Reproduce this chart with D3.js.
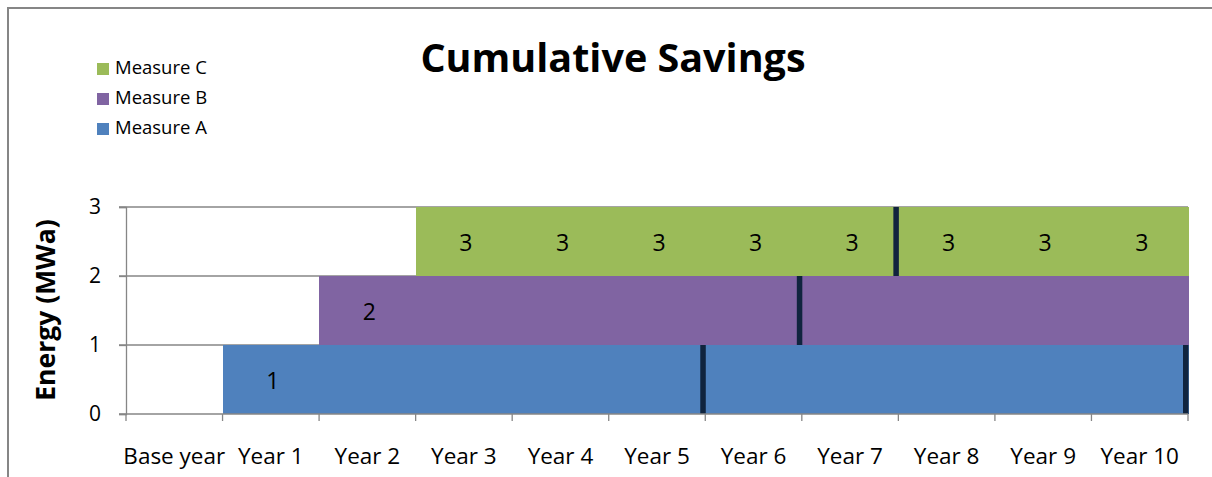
<!DOCTYPE html>
<html>
<head>
<meta charset="utf-8">
<script src="https://cdn.jsdelivr.net/npm/d3@7"></script>
<style>
  body { margin: 0; background: #fff; }
  svg { display: block; font-family: "Open Sans", sans-serif; }
</style>
</head>
<body>
<svg width="1212" height="477"></svg>
<script>
var categories = ["Base year", "Year 1", "Year 2", "Year 3", "Year 4", "Year 5",
    "Year 6", "Year 7", "Year 8", "Year 9", "Year 10"];
var measureA = [0, 1, 1, 1, 1, 1, 1, 1, 1, 1, 1];
var measureB = [0, 0, 1, 1, 1, 1, 1, 1, 1, 1, 1];
var measureC = [0, 0, 0, 1, 1, 1, 1, 1, 1, 1, 1];
var labelA = ["", "1", "", "", "", "", "", "", "", "", ""];
var labelB = ["", "", "2", "", "", "", "", "", "", "", ""];
var labelC = ["", "", "", "3", "3", "3", "3", "3", "3", "3", "3"];
// end-of-life markers (dark bar at right edge of a year)
var markerA = ["Year 5", "Year 10"];
var markerB = ["Year 6"];
var markerC = ["Year 7"];
var yTicks = [0, 1, 2, 3];

var svg = d3.select("svg");
var gridColor = "#868686";
var font = "'Open Sans', sans-serif";

// chart border
svg.append("rect")
    .attr("x", 8).attr("y", 8)
    .attr("width", 1400).attr("height", 600)
    .attr("fill", "none")
    .attr("stroke", gridColor)
    .attr("stroke-width", 2);

var x = d3.scaleBand().domain(categories).range([126, 1188]).padding(0);
var y = d3.scaleLinear().domain([0, 3]).range([414, 207]);

var series = [
    { name: "Measure A", values: measureA, labels: labelA, markers: markerA, color: "#4F81BD" },
    { name: "Measure B", values: measureB, labels: labelB, markers: markerB, color: "#8064A2" },
    { name: "Measure C", values: measureC, labels: labelC, markers: markerC, color: "#9BBB59" }
];

var table = categories.map(function (c, i) {
    var row = { cat: c };
    series.forEach(function (s) { row[s.name] = s.values[i]; });
    return row;
});
var stacked = d3.stack().keys(series.map(function (s) { return s.name; }))(table);

// gridlines
svg.append("g")
    .selectAll("line")
    .data(yTicks.slice(1))
    .enter()
    .append("line")
    .attr("x1", 119).attr("x2", 1188)
    .attr("y1", function (d) { return y(d); })
    .attr("y2", function (d) { return y(d); })
    .attr("stroke", gridColor)
    .attr("stroke-width", 1.3);

// bars
stacked.forEach(function (layer, k) {
    var s = series[k];
    svg.append("g")
        .attr("shape-rendering", "crispEdges")
        .selectAll("rect")
        .data(layer)
        .enter()
        .append("rect")
        .attr("x", function (d) { return x(d.data.cat); })
        .attr("width", x.bandwidth() + 1)
        .attr("y", function (d) { return y(d[1]); })
        .attr("height", function (d) { return y(d[0]) - y(d[1]); })
        .attr("fill", s.color);

    // markers
    svg.append("g")
        .selectAll("rect")
        .data(s.markers)
        .enter()
        .append("rect")
        .attr("x", function (m) { return x(m) + x.bandwidth() - 5; })
        .attr("width", 5.5)
        .attr("y", function (m) { return y(layer[categories.indexOf(m)][1]); })
        .attr("height", function (m) {
            var d = layer[categories.indexOf(m)];
            return y(d[0]) - y(d[1]);
        })
        .attr("fill", "#10243E");

    // value labels
    svg.append("g")
        .selectAll("text")
        .data(layer)
        .enter()
        .append("text")
        .attr("x", function (d) { return x(d.data.cat) + x.bandwidth() / 2 + 2; })
        .attr("y", function (d) { return (y(d[0]) + y(d[1])) / 2 + 3; })
        .attr("text-anchor", "middle")
        .attr("dominant-baseline", "middle")
        .attr("font-size", 23)
        .attr("fill", "#000")
        .text(function (d, i) { return s.labels[i]; });
});

// y axis
var yAxis = svg.append("g")
    .attr("transform", "translate(126,0)")
    .call(d3.axisLeft(y).tickValues(yTicks).tickSize(7).tickPadding(18).tickFormat(d3.format("d")));
yAxis.select(".domain").attr("stroke", gridColor).attr("stroke-width", 1.3);
yAxis.selectAll(".tick line").attr("stroke", gridColor).attr("stroke-width", 1.3);
yAxis.selectAll("text").attr("font-size", 21).attr("fill", "#000").attr("font-family", font);

// x axis
var xAxis = svg.append("g")
    .attr("transform", "translate(0,414)")
    .call(d3.axisBottom(x).tickSize(0).tickPadding(34));
xAxis.select(".domain").attr("stroke", gridColor).attr("stroke-width", 1.3)
    .attr("d", "M119,0H1188");
xAxis.selectAll("text").attr("font-size", 22.5).attr("fill", "#000").attr("font-family", font);

// x tick marks at band boundaries
svg.append("g")
    .selectAll("line")
    .data(categories.concat(["end"]))
    .enter()
    .append("line")
    .attr("x1", function (c, i) { return i < categories.length ? x(c) : x.range()[1]; })
    .attr("x2", function (c, i) { return i < categories.length ? x(c) : x.range()[1]; })
    .attr("y1", 414).attr("y2", 421)
    .attr("stroke", gridColor)
    .attr("stroke-width", 1.3);

// y title
svg.append("text")
    .attr("transform", "translate(55,310) rotate(-90)")
    .attr("text-anchor", "middle")
    .attr("font-size", 26.5)
    .attr("font-weight", "bold")
    .text("Energy (MWa)");

// title
svg.append("text")
    .attr("x", 613)
    .attr("y", 72)
    .attr("text-anchor", "middle")
    .attr("font-size", 39.5)
    .attr("font-weight", "bold")
    .text("Cumulative Savings");

// legend
var legend = svg.append("g")
    .selectAll("g")
    .data(series.slice().reverse())
    .enter()
    .append("g")
    .attr("transform", function (d, i) { return "translate(97," + (63 + 30 * i) + ")"; });
legend.append("rect")
    .attr("width", 12).attr("height", 12)
    .attr("fill", function (d) { return d.color; });
legend.append("text")
    .attr("x", 18)
    .attr("y", 6)
    .attr("dominant-baseline", "middle")
    .attr("font-size", 18.5)
    .text(function (d) { return d.name; });
</script>
</body>
</html>
